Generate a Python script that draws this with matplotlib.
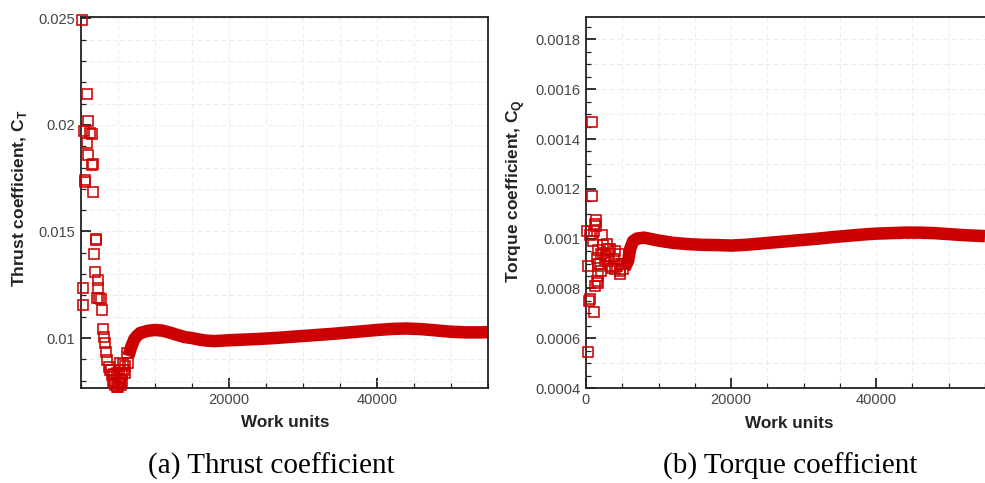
import numpy as np
import matplotlib.pyplot as plt
from matplotlib.ticker import MultipleLocator, FixedLocator

plt.rcParams['font.family'] = ['Liberation Sans', 'DejaVu Sans']
plt.rcParams['mathtext.fontset'] = 'custom'
plt.rcParams['mathtext.rm'] = 'Liberation Sans'
plt.rcParams['mathtext.bf'] = 'Liberation Sans:bold'

RED = '#cc0000'

### thrust history
# early iterations (scattered squares)
ct_sparse_x = [180, 850, 990, 400, 1220, 1440, 850, 990, 1570, 1530, 540, 600, 1660,
               1980, 2030, 1760, 1890, 310, 2340, 2340, 2470, 2660, 310, 2800, 2200,
               2930, 3110, 3280, 3380, 3550, 3820, 3920, 4150, 4460, 4820, 4820, 5270,
               5360, 5950, 6160, 6390,
               4000, 4300, 4400, 4600, 5000, 5100, 5200, 5300, 5500, 5600, 5700, 5800,
               6000]
ct_sparse_y = [0.02494, 0.02143, 0.02019, 0.01972, 0.01964, 0.01957, 0.01917, 0.01858,
               0.01816, 0.01810, 0.01742, 0.01730, 0.01684,
               0.01466, 0.01460, 0.01396, 0.01310, 0.01237, 0.01271, 0.01237, 0.01186,
               0.01182, 0.01154, 0.01131, 0.01190,
               0.01045, 0.01006, 0.00975, 0.00936, 0.00897, 0.00866, 0.00850, 0.00827,
               0.00788, 0.00770, 0.00835, 0.00882,
               0.00780, 0.00835, 0.00928, 0.00882,
               0.00850, 0.00800, 0.00830, 0.00780, 0.00772, 0.00790, 0.00850, 0.00810,
               0.00830, 0.00800, 0.00880, 0.00850, 0.00870]
# converged part (dense band)
ct_band_x = [6400, 6800, 7200, 7600, 8000, 9000, 10000, 11000, 12000, 13000, 14000,
             15000, 16000, 17000, 18000, 19000, 20000, 22000, 24000, 26000, 28000,
             30000, 32000, 34000, 36000, 38000, 40000, 42000, 44000, 46000, 48000,
             50000, 52000, 54000, 55000]
ct_band_y = [0.00915, 0.00960, 0.00995, 0.01012, 0.01024, 0.01034, 0.01038, 0.01035,
             0.01026, 0.01015, 0.01005, 0.01000, 0.00993, 0.00988, 0.00986, 0.00988,
             0.00990, 0.00993, 0.00996, 0.01000, 0.01005, 0.01010, 0.01015, 0.01020,
             0.01026, 0.01032, 0.01038, 0.01043, 0.01045, 0.01042, 0.01036, 0.01030,
             0.01027, 0.01027, 0.01028]

### torque history
cq_sparse_x = [780, 780, 1380, 1250, 1380, 1100, 180, 550, 2160, 2850, 320, 1700, 1700,
               1240, 550, 1100, 320, 410, 1480, 1700, 2390, 1480, 2620, 1930, 3310,
               4000, 4000, 4690, 5150, 2390, 3310, 4700, 900, 2000,
               2700, 3000, 3600, 3800, 4300, 4500, 5000, 3000, 2000, 1600]
cq_sparse_y = [0.001467, 0.001172, 0.001076, 0.001060, 0.001050, 0.001030, 0.001032,
               0.001016, 0.001016, 0.000980, 0.000890, 0.000850, 0.000820, 0.000810,
               0.000756, 0.000705, 0.000545, 0.000750, 0.000830, 0.000956, 0.000943,
               0.000923, 0.000916, 0.000896, 0.000890, 0.000950, 0.000876, 0.000856,
               0.000876, 0.000976, 0.000960, 0.000870, 0.000990, 0.000870,
               0.000930, 0.000910, 0.000880, 0.000920, 0.000890, 0.000940, 0.000900,
               0.000960, 0.000940, 0.000900]
cq_band_x = [5300, 5800, 6100, 6500, 7000, 8000, 9000, 10000, 12000, 14000, 16000,
             18000, 20000, 22000, 24000, 26000, 28000, 30000, 32000, 34000, 36000,
             38000, 40000, 42000, 44000, 46000, 48000, 50000, 52000, 55000]
cq_band_y = [0.000880, 0.000910, 0.000960, 0.000990, 0.001000, 0.001004, 0.000998,
             0.000992, 0.000983, 0.000978, 0.000975, 0.000974, 0.000972, 0.000975,
             0.000980, 0.000985, 0.000990, 0.000995, 0.001000, 0.001006, 0.001011,
             0.001016, 0.001020, 0.001022, 0.001024, 0.001024, 0.001022, 0.001018,
             0.001014, 0.001010]

fig = plt.figure(figsize=(9.85, 4.83), dpi=100)
W, H = 985.0, 483.0

ax1 = fig.add_axes([81 / W, 1 - 388 / H, 407 / W, 371 / H])
ax2 = fig.add_axes([586 / W, 1 - 388 / H, 399 / W, 371 / H])

GRID = dict(color='#ececec', lw=0.7, ls=(0, (5, 3)))


def style(ax):
    for s in ax.spines.values():
        s.set_linewidth(1.3)
        s.set_color('#222222')
    ax.tick_params(which='both', direction='in', top=False, right=False,
                   colors='#222222', labelcolor='#444444', labelsize=10.5)
    ax.tick_params(which='major', length=7, width=1.3)
    ax.tick_params(which='minor', length=3.5, width=0.9)
    ax.tick_params(axis='y', pad=4)
    ax.tick_params(axis='x', pad=3.5)
    ax.xaxis.set_minor_locator(MultipleLocator(5000))
    ax.set_axisbelow(True)


def history(ax, sx, sy, bx, by):
    ax.plot(bx, by, color=RED, lw=9, solid_capstyle='butt',
            solid_joinstyle='round', zorder=2)
    ax.plot(sx, sy, 's', ms=6.8, mfc='none', mec=RED, mew=1.15, zorder=3,
            clip_on=False)


# (a) thrust
history(ax1, ct_sparse_x, ct_sparse_y, ct_band_x, ct_band_y)
ax1.set_xlim(0, 55000)
ax1.set_ylim(0.00766, 0.02506)
style(ax1)
ax1.xaxis.set_major_locator(FixedLocator([20000, 40000]))
ax1.set_xticklabels(['20000', '40000'])
ax1.yaxis.set_major_locator(FixedLocator([0.01, 0.015, 0.02, 0.025]))
ax1.set_yticklabels(['0.01', '0.015', '0.02', '0.025'])
ax1.yaxis.set_minor_locator(MultipleLocator(0.001))
ax1.grid(which='both', **GRID)
ax1.set_xlabel('Work units', fontsize=12.3, fontweight='bold', color='#222222')
ax1.xaxis.set_label_coords(0.501, -0.094)
ax1.xaxis.label.set_va('center')
ax1.set_ylabel(r'Thrust coefficient, C$_{\mathbf{T}}$', fontsize=12.5,
               fontweight='bold', color='#222222')
ax1.yaxis.set_label_coords(-0.15, 0.512)
ax1.yaxis.label.set_va('center')

# (b) torque
history(ax2, cq_sparse_x, cq_sparse_y, cq_band_x, cq_band_y)
ax2.set_xlim(0, 55000)
ax2.set_ylim(0.0004, 0.00189)
style(ax2)
ax2.spines['right'].set_visible(False)
ax2.xaxis.set_major_locator(FixedLocator([0, 20000, 40000]))
ax2.set_xticklabels(['0', '20000', '40000'])
cq_ticks = [0.0004, 0.0006, 0.0008, 0.001, 0.0012, 0.0014, 0.0016, 0.0018]
ax2.yaxis.set_major_locator(FixedLocator(cq_ticks))
ax2.set_yticklabels(['0.0004', '0.0006', '0.0008', '0.001', '0.0012', '0.0014',
                     '0.0016', '0.0018'])
ax2.yaxis.set_minor_locator(MultipleLocator(0.00005))
ax2.grid(axis='x', which='both', **GRID)
ax2.hlines(np.arange(0.0005, 0.00185, 0.0001), 0, 55000, zorder=0, **GRID)
ax2.set_xlabel('Work units', fontsize=12.3, fontweight='bold', color='#222222')
ax2.xaxis.set_label_coords(0.509, -0.097)
ax2.xaxis.label.set_va('center')
ax2.set_ylabel(r'Torque coefficient, C$_{\mathbf{Q}}$', fontsize=12.5,
               fontweight='bold', color='#222222')
ax2.yaxis.set_label_coords(-0.176, 0.53)
ax2.yaxis.label.set_va('center')

# captions
fig.text(271.5 / W, 1 - 466 / H, '(a) Thrust coefficient', family='Liberation Serif',
         fontsize=21, ha='center', va='center')
fig.text(790 / W, 1 - 466 / H, '(b) Torque coefficient', family='Liberation Serif',
         fontsize=21, ha='center', va='center')

fig.savefig('out.png', dpi=100)
